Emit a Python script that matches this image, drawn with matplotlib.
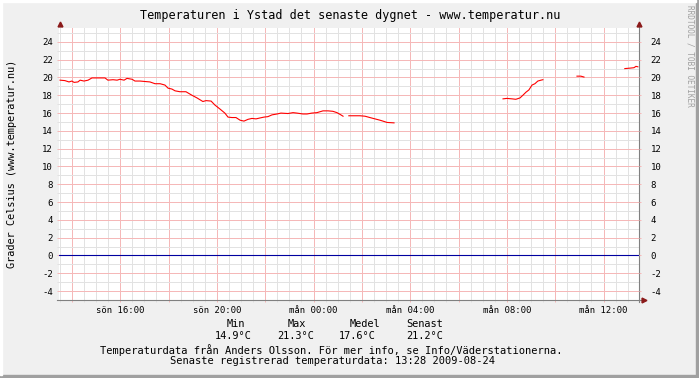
import matplotlib.pyplot as plt
import numpy as np
from matplotlib.ticker import MultipleLocator

# hours counted from sunday 00:00 (so 24 = monday 00:00), nan = no data
hours = [13.51, 13.71, 13.88, 14.00, 14.09, 14.25, 14.34, 14.50, 14.67, 14.83,
         15.16, 15.37, 15.49, 15.70, 15.87, 15.99, 16.16, 16.28, 16.49, 16.61,
         16.82, 17.02, 17.23, 17.44, 17.65, 17.85, 17.98, 18.14, 18.27, 18.47,
         18.72, 18.97, 19.18, 19.30, 19.42, 19.55, 19.76, 19.92, 20.13, 20.33,
         20.46, 20.62, 20.79, 20.96, 21.12, 21.29, 21.45, 21.62, 21.78, 21.95,
         22.11, 22.28, 22.49, 22.65, 22.94, 23.15, 23.31, 23.56, 23.73, 23.93,
         24.14, 24.39, 24.60, 24.80, 24.97, 25.13, 25.22, 25.34,
         25.46, 25.71, 25.92, 26.13, 26.33, 26.54, 26.75, 26.87, 27.04, 27.33, 27.5,
         31.84, 32.00, 32.21, 32.37, 32.54, 32.66, 32.79, 32.91, 33.04, 33.16,
         33.28, 33.41, 33.49, 34.0,
         34.90, 35.06, 35.19, 36.0,
         36.88, 37.09, 37.26, 37.34, 37.42]
temps = [19.7, 19.65, 19.5, 19.6, 19.45, 19.5, 19.7, 19.6, 19.7, 19.95,
         19.95, 19.95, 19.7, 19.75, 19.7, 19.8, 19.7, 19.9, 19.8, 19.6,
         19.6, 19.55, 19.5, 19.3, 19.3, 19.15, 18.8, 18.7, 18.5, 18.4,
         18.4, 18.0, 17.7, 17.5, 17.3, 17.4, 17.35, 16.9, 16.45, 16.0,
         15.55, 15.5, 15.5, 15.2, 15.1, 15.3, 15.4, 15.35, 15.45, 15.55,
         15.6, 15.8, 15.9, 16.0, 15.95, 16.05, 16.0, 15.9, 15.9, 16.0,
         16.05, 16.25, 16.25, 16.2, 16.05, 15.8, 15.65, np.nan,
         15.7, 15.7, 15.7, 15.65, 15.5, 15.35, 15.2, 15.1, 14.95, 14.9, np.nan,
         17.6, 17.65, 17.6, 17.55, 17.7, 18.0, 18.35, 18.6, 19.15, 19.3,
         19.6, 19.7, 19.75, np.nan,
         20.15, 20.15, 20.05, np.nan,
         21.0, 21.05, 21.1, 21.25, 21.2]

t_start = 13 + 28 / 60
t_end = t_start + 24
label_hours = [16, 20, 24, 28, 32, 36]
label_names = ['sön 16:00', 'sön 20:00', 'mån 00:00', 'mån 04:00', 'mån 08:00', 'mån 12:00']
stat_names = ['Min', 'Max', 'Medel', 'Senast']
stat_values = ['14.9°C', '21.3°C', '17.6°C', '21.2°C']

W, H = 699, 378
mono = 'DejaVu Sans Mono'
minor_col = '#E2E2E2'
major_col = '#F5B8B8'


def px(x, y):
    return x / W, 1 - y / H


fig = plt.figure(figsize=(W / 100, H / 100), dpi=100, facecolor='#F0F0F0')
ax = fig.add_axes([59 / W, 78 / H, 580 / W, 272 / H])
ax.set_facecolor('white')
for s in ax.spines.values():
    s.set_visible(False)

ax.set_xlim(t_start, t_end)
ax.set_ylim(-5, 25.56)

# grid: grey minor, red major
ax.xaxis.set_major_locator(MultipleLocator(2))
ax.xaxis.set_minor_locator(MultipleLocator(0.5))
ax.yaxis.set_major_locator(MultipleLocator(2))
ax.yaxis.set_minor_locator(MultipleLocator(1))
ax.grid(which='minor', color=minor_col, linewidth=0.72)
ax.grid(which='major', color=major_col, linewidth=0.72)
ax.set_axisbelow(True)

major_x = np.arange(14, 38, 2)
ax.set_xticks(major_x)
ax.set_xticklabels([label_names[label_hours.index(h)] if h in label_hours else '' for h in major_x],
                   fontfamily=mono, fontsize=6.4)
yt = np.arange(-4, 25, 2)
ax.set_yticks(yt)
ax.set_yticklabels([str(v) for v in yt], fontfamily=mono, fontsize=6.5)
ax.tick_params(axis='both', which='major', length=1.5, width=0.72, color=major_col, pad=3)
ax.tick_params(axis='both', which='minor', length=1.5, width=0.72, color=minor_col)

ax2 = ax.twinx()
for s in ax2.spines.values():
    s.set_visible(False)
ax2.set_ylim(ax.get_ylim())
ax2.set_yticks(yt)
ax2.set_yticklabels([str(v) for v in yt], fontfamily=mono, fontsize=6.5)
ax2.tick_params(axis='y', length=1.5, width=0.72, color=major_col, pad=7)

# zero line and data
ax.axhline(0, color='#0000A0', linewidth=0.8, zorder=3)
ax.plot(hours, temps, color='#FF0000', linewidth=0.8, zorder=4)

# axis lines and arrows
ax.plot([-0.004, 1.007], [0, 0], transform=ax.transAxes, color='#808080',
        linewidth=0.8, clip_on=False, zorder=5)
ax.plot([1, 1], [-0.008, 1.01], transform=ax.transAxes, color='#808080',
        linewidth=0.8, clip_on=False, zorder=5)
ax.plot([1.008], [0], marker='>', markersize=3.5, color='#8B1A1A', transform=ax.transAxes,
        clip_on=False, zorder=6)
ax.plot([1], [1.015], marker='^', markersize=3.5, color='#8B1A1A', transform=ax.transAxes,
        clip_on=False, zorder=6)
ax.plot([0.002], [1.015], marker='^', markersize=3.5, color='#8B1A1A', transform=ax.transAxes,
        clip_on=False, zorder=6)

# texts
fig.text(*px(350, 15), 'Temperaturen i Ystad det senaste dygnet - www.temperatur.nu',
         ha='center', va='center', fontfamily=mono, fontsize=8.5)
fig.text(*px(12, 164), 'Grader Celsius (www.temperatur.nu)', rotation=90,
         ha='center', va='center', fontfamily=mono, fontsize=7.4)
fig.text(*px(690, 56), 'RRDTOOL / TOBI OETIKER', rotation=270,
         ha='center', va='center', fontfamily=mono, fontsize=5.6, color='#A0A0A0')

name_x = [236, 297, 365, 425]
value_x = [233, 296, 357, 425]
for nx, vx, n, v in zip(name_x, value_x, stat_names, stat_values):
    fig.text(*px(nx, 324), n, ha='center', va='center', fontfamily=mono, fontsize=7.4)
    fig.text(*px(vx, 336), v, ha='center', va='center', fontfamily=mono, fontsize=7.4)
fig.text(*px(331, 350), 'Temperaturdata från Anders Olsson. För mer info, se Info/Väderstationerna.',
         ha='center', va='center', fontfamily=mono, fontsize=7.45)
fig.text(*px(332, 361), 'Senaste registrerad temperaturdata: 13:28 2009-08-24',
         ha='center', va='center', fontfamily=mono, fontsize=7.45)

# 3d-ish frame
fig.add_artist(plt.Rectangle((0, 0), 1, 3 / H, transform=fig.transFigure, color='#A0A0A0'))
fig.add_artist(plt.Rectangle((1 - 3 / W, 0), 3 / W, 1, transform=fig.transFigure, color='#A0A0A0'))
fig.add_artist(plt.Rectangle((0, 1 - 2 / H), 1 - 3 / W, 2 / H, transform=fig.transFigure, color='#FFFFFF'))
fig.add_artist(plt.Rectangle((0, 3 / H), 2 / W, 1, transform=fig.transFigure, color='#FFFFFF'))

fig.savefig('out.png', dpi=100, facecolor=fig.get_facecolor())
